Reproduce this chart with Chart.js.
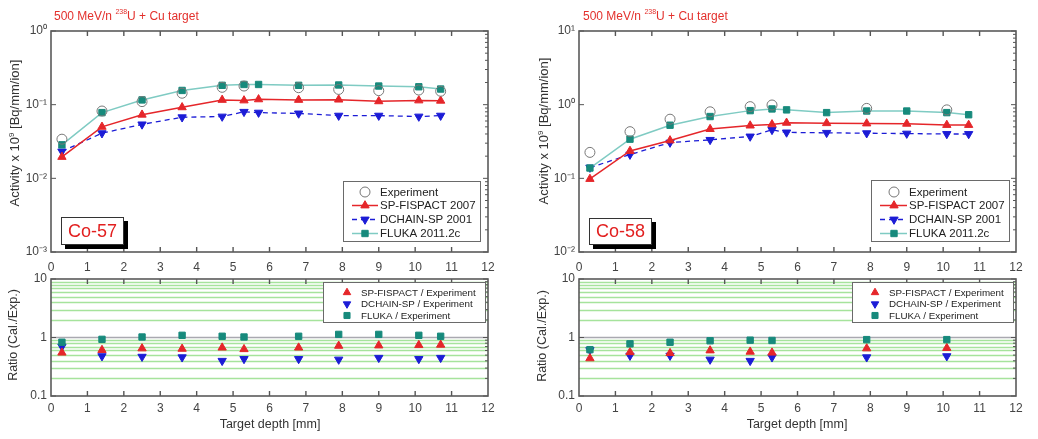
<!DOCTYPE html>
<html><head><meta charset="utf-8">
<script src="https://cdn.jsdelivr.net/npm/chart.js@4/dist/chart.umd.min.js"></script>
<style>
body{margin:0;background:#fff;width:1038px;height:439px;overflow:hidden;position:relative;font-family:"Liberation Sans",Arial,sans-serif;}
canvas{position:absolute;left:0;top:0;}
.t{position:absolute;white-space:nowrap;color:#333;}
.title{color:#e3302c;font-size:12px;}
.title sup{font-size:7px;vertical-align:6px;line-height:0;}
.rot{transform:rotate(-90deg);transform-origin:50% 50%;text-align:center;}
.iso{position:absolute;background:#fff;border:1px solid #333;box-shadow:4px 4px 0 #000;color:#e21f1f;font-size:18px;text-align:center;}
</style></head><body>
<canvas id="cA" width="1038" height="439"></canvas>
<canvas id="cB" width="1038" height="439"></canvas>
<canvas id="cC" width="1038" height="439"></canvas>
<canvas id="cD" width="1038" height="439"></canvas>

<div class="t title" style="left:54px;top:9px;">500 MeV/n <sup>238</sup>U + Cu target</div>
<div class="t title" style="left:583px;top:9px;">500 MeV/n <sup>238</sup>U + Cu target</div>
<div class="t rot" style="left:-65px;top:125px;width:160px;font-size:13px;line-height:16px;">Activity x 10<sup style="font-size:8px;vertical-align:5px;line-height:0">9</sup> [Bq/mm/ion]</div>
<div class="t rot" style="left:464px;top:123px;width:160px;font-size:13px;line-height:16px;">Activity x 10<sup style="font-size:8px;vertical-align:5px;line-height:0">9</sup> [Bq/mm/ion]</div>
<div class="t rot" style="left:-47px;top:327px;width:120px;font-size:12.5px;line-height:16px;">Ratio (Cal./Exp.)</div>
<div class="t rot" style="left:482px;top:328px;width:120px;font-size:12.5px;line-height:16px;">Ratio (Cal./Exp.)</div>
<div class="t" style="left:170px;top:417px;width:200px;text-align:center;font-size:12.5px;">Target depth [mm]</div>
<div class="t" style="left:697px;top:417px;width:200px;text-align:center;font-size:12.5px;">Target depth [mm]</div>
<div class="iso" style="left:61px;top:217px;width:61px;height:26px;line-height:26px;">Co-57</div>
<div class="iso" style="left:589px;top:218px;width:61px;height:25px;line-height:25px;">Co-58</div>

<script>
// ---------------- data ----------------
const depthModel = [0.3, 1.4, 2.5, 3.6, 4.7, 5.3, 5.7, 6.8, 7.9, 9.0, 10.1, 10.7];
const xTicks = [0,1,2,3,4,5,6,7,8,9,10,11,12];

const co57DepthExp = [0.3, 1.4, 2.5, 3.6, 4.7, 5.3, 6.8, 7.9, 9.0, 10.1, 10.7];
const co57Exp    = [0.034, 0.082, 0.110, 0.143, 0.172, 0.179, 0.170, 0.161, 0.155, 0.158, 0.152];
const co57Sp     = [0.0195, 0.050, 0.073, 0.092, 0.116, 0.114, 0.118, 0.116, 0.117, 0.111, 0.114, 0.113];
const co57Dc     = [0.0232, 0.041, 0.054, 0.0675, 0.069, 0.080, 0.078, 0.076, 0.071, 0.071, 0.069, 0.071];
const co57Fl     = [0.0285, 0.078, 0.116, 0.156, 0.183, 0.188, 0.188, 0.183, 0.185, 0.179, 0.175, 0.163];
const co57RatioSp = [0.55, 0.61, 0.65, 0.64, 0.67, 0.63, 0.67, 0.72, 0.73, 0.74, 0.75];
const co57RatioDc = [0.70, 0.48, 0.47, 0.46, 0.40, 0.43, 0.43, 0.42, 0.45, 0.43, 0.45];
const co57RatioFl = [0.83, 0.93, 1.02, 1.09, 1.05, 1.02, 1.05, 1.13, 1.13, 1.09, 1.05];

const co58DepthExp = [0.3, 1.4, 2.5, 3.6, 4.7, 5.3, 7.9, 10.1];
const co58Exp    = [0.225, 0.43, 0.635, 0.80, 0.94, 0.99, 0.89, 0.85];
const co58Sp     = [0.098, 0.235, 0.327, 0.466, 0.52, 0.54, 0.567, 0.56, 0.555, 0.55, 0.53, 0.53];
const co58Dc     = [0.14, 0.21, 0.306, 0.333, 0.37, 0.455, 0.42, 0.415, 0.41, 0.405, 0.40, 0.40];
const co58Fl     = [0.138, 0.34, 0.526, 0.69, 0.83, 0.875, 0.85, 0.78, 0.82, 0.82, 0.78, 0.73];
const co58RatioSp = [0.44, 0.56, 0.54, 0.60, 0.57, 0.55, 0.65, 0.66];
const co58RatioDc = [0.61, 0.49, 0.49, 0.42, 0.40, 0.46, 0.46, 0.48];
const co58RatioFl = [0.62, 0.78, 0.83, 0.88, 0.90, 0.89, 0.92, 0.92];

const activityLabels = ['Experiment', 'SP-FISPACT 2007', 'DCHAIN-SP 2001', 'FLUKA 2011.2c'];
const ratioLabels = ['SP-FISPACT / Experiment', 'DCHAIN-SP / Experiment', 'FLUKA / Experiment'];
const co57YTicks = [0.001, 0.01, 0.1, 1];
const co58YTicks = [0.01, 0.1, 1, 10];
const ratioYTicks = [0.1, 1, 10];
const ratioYTickLabels = ['0.1', '1', '10'];

// ---------------- styles ----------------
const FONT = '"Liberation Sans", Arial, sans-serif';
const RED = '#e5262a', BLUE = '#1c1cd6', TEAL = '#178a7c', TEAL_LINE = '#7fcbc3', GREY = '#777';
const SUP = {'-':'\u207B','0':'\u2070','1':'\u00B9','2':'\u00B2','3':'\u00B3','4':'\u2074','5':'\u2075','6':'\u2076','7':'\u2077','8':'\u2078','9':'\u2079'};
function pow10Label(v){ const e = Math.round(Math.log10(v)); return '10' + String(e).split('').map(c => SUP[c]).join(''); }
function pts(xs, ys){ return xs.map((x, i) => ({x: x, y: ys[i]})); }

function expDs(label, xs, ys){ return {label, data: pts(xs, ys), showLine:false, pointStyle:'circle', pointRadius:5, pointBackgroundColor:'rgba(0,0,0,0)', pointBorderColor:GREY, pointBorderWidth:1, order:0}; }
function spDs(label, xs, ys, line){ return {label, data: pts(xs, ys), showLine:line, borderColor:RED, borderWidth:1.5, pointStyle:'triangle', pointRadius:4.8, pointBackgroundColor:RED, pointBorderColor:RED, pointBorderWidth:1, order:2}; }
function dcDs(label, xs, ys, line){ return {label, data: pts(xs, ys), showLine:line, borderColor:BLUE, borderWidth:1.3, borderDash:[5,4], pointStyle:'triangle', pointRotation:180, pointRadius:4.8, pointBackgroundColor:BLUE, pointBorderColor:BLUE, pointBorderWidth:1, order:3}; }
function flDs(label, xs, ys, line){ return {label, data: pts(xs, ys), showLine:line, borderColor:TEAL_LINE, borderWidth:1.5, pointStyle:'rect', pointRadius:4.5, pointBackgroundColor:TEAL, pointBorderColor:TEAL, pointBorderWidth:1, order:1}; }

function drawSym(ctx, style, x, y, r, fill, stroke, rot, bw){
  ctx.save();
  ctx.beginPath();
  if (style === 'circle') { ctx.arc(x, y, r, 0, Math.PI*2); }
  else if (style === 'rect') { const s = Math.SQRT1_2 * r; ctx.rect(x-s, y-s, 2*s, 2*s); }
  else if (style === 'triangle') {
    let a = (rot||0) * Math.PI / 180;
    ctx.moveTo(x + Math.sin(a)*r, y - Math.cos(a)*r);
    a += 2*Math.PI/3; ctx.lineTo(x + Math.sin(a)*r, y - Math.cos(a)*r);
    a += 2*Math.PI/3; ctx.lineTo(x + Math.sin(a)*r, y - Math.cos(a)*r);
    ctx.closePath();
  }
  ctx.fillStyle = fill; ctx.fill();
  ctx.strokeStyle = stroke; ctx.lineWidth = bw || 1; ctx.stroke();
  ctx.restore();
}

function decoPlugin(cfg){
  return {
    id: 'deco',
    beforeDatasetsDraw(chart){
      if (!cfg.ratioGrid) return;
      const ctx = chart.ctx, a = chart.chartArea, ys = chart.scales.y;
      ctx.save();
      const vals = [0.2,0.3,0.4,0.5,0.6,0.7,0.8,0.9,2,3,4,5,6,7,8,9];
      ctx.lineWidth = 1.3; ctx.strokeStyle = '#a6e39c';
      vals.forEach(v => { const py = Math.round(ys.getPixelForValue(v)) + 0.5; ctx.beginPath(); ctx.moveTo(a.left, py); ctx.lineTo(a.right, py); ctx.stroke(); });
      ctx.strokeStyle = '#a9a9b0'; ctx.lineWidth = 1.6;
      const p1 = ys.getPixelForValue(1); ctx.beginPath(); ctx.moveTo(a.left, p1); ctx.lineTo(a.right, p1); ctx.stroke();
      ctx.restore();
    },
    afterDatasetsDraw(chart){
      const ctx = chart.ctx, a = chart.chartArea, xs = chart.scales.x, ys = chart.scales.y;
      ctx.save();
      ctx.strokeStyle = '#555'; ctx.lineWidth = 1.4;
      xTicks.forEach(v => {
        if (v === 0 || v === 12) return;
        const px = xs.getPixelForValue(v);
        ctx.beginPath(); ctx.moveTo(px, a.top); ctx.lineTo(px, a.top + 5); ctx.stroke();
        ctx.beginPath(); ctx.moveTo(px, a.bottom); ctx.lineTo(px, a.bottom - 5); ctx.stroke();
      });
      const lo = Math.round(Math.log10(ys.min)), hi = Math.round(Math.log10(ys.max));
      ctx.lineWidth = 1;
      for (let e = lo; e <= hi; e++) {
        const py = ys.getPixelForValue(Math.pow(10, e));
        ctx.beginPath(); ctx.moveTo(a.left, py); ctx.lineTo(a.left + 5, py); ctx.stroke();
        ctx.beginPath(); ctx.moveTo(a.right, py); ctx.lineTo(a.right - 5, py); ctx.stroke();
        if (e < hi) for (let m = 2; m <= 9; m++) {
          const pm = ys.getPixelForValue(m * Math.pow(10, e));
          ctx.beginPath(); ctx.moveTo(a.right, pm); ctx.lineTo(a.right - 3, pm); ctx.stroke();
        }
      }
      ctx.lineWidth = 1.6; ctx.strokeStyle = '#5a5a5a';
      ctx.strokeRect(a.left, a.top, a.right - a.left, a.bottom - a.top);
      const L = cfg.legend;
      if (L) {
        ctx.fillStyle = '#fff'; ctx.fillRect(L.x, L.y, L.w, L.h);
        ctx.strokeStyle = '#6a6a6a'; ctx.lineWidth = 1; ctx.strokeRect(L.x + 0.5, L.y + 0.5, L.w, L.h);
        ctx.font = L.font; ctx.textBaseline = 'middle'; ctx.textAlign = 'left';
        L.rows.forEach((di, i) => {
          const ds = chart.data.datasets[di];
          const y = L.rowY[i];
          if (ds.showLine) {
            ctx.save(); ctx.strokeStyle = ds.borderColor; ctx.lineWidth = ds.borderWidth; ctx.setLineDash(ds.borderDash || []);
            ctx.beginPath(); ctx.moveTo(L.lx0, y); ctx.lineTo(L.lx1, y); ctx.stroke(); ctx.restore();
          }
          drawSym(ctx, ds.pointStyle, L.sx, y, L.r || ds.pointRadius, ds.pointBackgroundColor, ds.pointBorderColor, ds.pointRotation || 0, ds.pointBorderWidth);
          ctx.fillStyle = '#222'; ctx.fillText(ds.label, L.tx, y + 0.5);
        });
      }
      ctx.restore();
    }
  };
}

const YW = 45;
function makeChart(id, area, xh, xpad, yMin, yMax, yTicks, yLabel, datasets, cfg){
  return new Chart(document.getElementById(id), {
    type: 'scatter',
    data: { datasets },
    options: {
      responsive: false, animation: false, devicePixelRatio: 1,
      layout: { padding: { left: area.l - YW, top: area.t, right: 1038 - area.r, bottom: 439 - area.b - xh } },
      plugins: { legend: { display: false }, tooltip: { enabled: false } },
      scales: {
        x: {
          type: 'linear', min: 0, max: 12, position: 'bottom',
          afterBuildTicks: s => { s.ticks = xTicks.map(v => ({value: v})); },
          afterFit: s => { s.height = xh; },
          grid: { display: false, drawTicks: false }, border: { display: false },
          ticks: { display: xh > 0, padding: xpad, color: '#444', font: { family: FONT, size: 12 }, maxRotation: 0, autoSkip: false,
                   callback: v => String(v) }
        },
        y: {
          type: 'logarithmic', min: yMin, max: yMax,
          afterBuildTicks: s => { s.ticks = yTicks.map(v => ({value: v, major: true})); },
          afterFit: s => { s.width = YW; },
          grid: { display: false, drawTicks: false }, border: { display: false },
          ticks: { padding: 4, color: '#444', font: { family: FONT, size: 12 }, autoSkip: false,
                   callback: (v, i) => yLabel(v, i) }
        }
      }
    },
    plugins: [decoPlugin(cfg)]
  });
}

const topLegendRowsY = [192, 205.5, 219.5, 233.5];
const ratioLegendRowsY = [292.5, 304, 315.5];

makeChart('cA', {l:51, r:488, t:31, b:252}, 22, 8, 0.001, 1, co57YTicks, v => pow10Label(v), [
  expDs(activityLabels[0], co57DepthExp, co57Exp),
  spDs(activityLabels[1], depthModel, co57Sp, true),
  dcDs(activityLabels[2], depthModel, co57Dc, true),
  flDs(activityLabels[3], depthModel, co57Fl, true)
], { legend: { x:343, y:181, w:137, h:60, font:'11.5px ' + FONT, rows:[0,1,2,3], rowY: topLegendRowsY, lx0:352, lx1:378, sx:365, tx:380 } });

makeChart('cB', {l:51, r:488, t:279, b:396}, 22, 5, 0.1, 10, ratioYTicks, v => ratioYTickLabels[ratioYTicks.indexOf(v)] || '', [
  spDs(ratioLabels[0], co57DepthExp, co57RatioSp, false),
  dcDs(ratioLabels[1], co57DepthExp, co57RatioDc, false),
  flDs(ratioLabels[2], co57DepthExp, co57RatioFl, false)
], { ratioGrid: true, legend: { x:323, y:282, w:162, h:40, font:'9.8px ' + FONT, r:4.3, rows:[0,1,2], rowY: ratioLegendRowsY, lx0:0, lx1:0, sx:347, tx:361 } });

makeChart('cC', {l:579, r:1016, t:31, b:252}, 22, 8, 0.01, 10, co58YTicks, v => pow10Label(v), [
  expDs(activityLabels[0], co58DepthExp, co58Exp),
  spDs(activityLabels[1], depthModel, co58Sp, true),
  dcDs(activityLabels[2], depthModel, co58Dc, true),
  flDs(activityLabels[3], depthModel, co58Fl, true)
], { legend: { x:871, y:180, w:138, h:61, font:'11.5px ' + FONT, rows:[0,1,2,3], rowY: topLegendRowsY, lx0:880, lx1:907, sx:894, tx:909 } });

makeChart('cD', {l:579, r:1016, t:279, b:396}, 22, 5, 0.1, 10, ratioYTicks, v => ratioYTickLabels[ratioYTicks.indexOf(v)] || '', [
  spDs(ratioLabels[0], co58DepthExp, co58RatioSp, false),
  dcDs(ratioLabels[1], co58DepthExp, co58RatioDc, false),
  flDs(ratioLabels[2], co58DepthExp, co58RatioFl, false)
], { ratioGrid: true, legend: { x:852, y:282, w:161, h:40, font:'9.8px ' + FONT, r:4.3, rows:[0,1,2], rowY: ratioLegendRowsY, lx0:0, lx1:0, sx:875, tx:889 } });
</script>
</body></html>
